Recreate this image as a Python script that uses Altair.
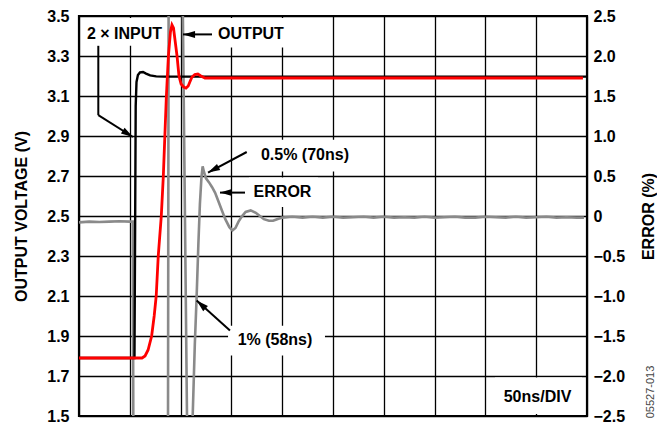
import altair as alt
import pandas as pd

# ---------------- data (time in ns, voltage in V, error in %) ----------------
input_t = [0, 54.6, 55.2, 55.8, 56.6, 58, 60, 63, 66, 70, 76, 84, 500]
input_v = [1.79, 1.79, 2.4, 3.05, 3.17, 3.205, 3.218, 3.22, 3.212, 3.203, 3.198, 3.197, 3.197]

output_t = [0, 62, 65, 68, 71.5, 74, 76, 78, 81, 83, 84.5, 86, 88, 90, 91.5, 93, 95,
            96.5, 98.4, 100.5, 103, 105.3, 107.5, 109.5, 111.2, 114, 117, 120, 124, 496]
output_v = [1.79, 1.79, 1.80, 1.83, 1.90, 2.0, 2.1, 2.3, 2.5, 2.7, 2.9, 3.1, 3.3, 3.42, 3.455, 3.44, 3.36,
            3.3, 3.2, 3.16, 3.145, 3.14, 3.15, 3.175, 3.195, 3.207, 3.21, 3.2, 3.19, 3.19]

error_t = [0, 10, 20, 30, 40, 50, 53.0, 53.6, 87.5, 88.3, 101.6, 107.1, 108.5, 110, 111.9, 114, 115.8,
           117.5, 119, 120.5, 121.7, 123, 125, 128, 131, 134, 137, 140, 144, 148, 151, 154, 157, 160,
           164, 169, 174, 178, 182, 187, 191, 195, 200, 210, 220, 230, 240, 250, 260, 270, 280, 290,
           300, 310, 320, 330, 340, 350, 360, 370, 380, 390, 400, 410, 420, 430, 440, 450, 460, 470,
           480, 490, 497]
error_v = [-0.08, -0.07, -0.075, -0.07, -0.065, -0.07, -0.07, -3.5, -3.5, 3.5, 3.3, -3.5, -3.8, -3.3, -2.5, -1.6, -1.0,
           -0.35, 0.15, 0.48, 0.62, 0.55, 0.47, 0.42, 0.36, 0.29, 0.19, 0.09, -0.04, -0.14, -0.18, -0.15, -0.07, -0.01,
           0.05, 0.07, 0.04, 0.0, -0.04, -0.06, -0.06, -0.04, -0.02, -0.01, -0.02, -0.01, -0.02, -0.01, -0.02, -0.015, -0.01, -0.02,
           -0.01, -0.02, -0.015, -0.02, -0.01, -0.02, -0.015, -0.01, -0.02, -0.02, -0.01, -0.015, -0.02, -0.01, -0.02, -0.015, -0.01, -0.02,
           -0.015, -0.02, -0.02]

x_ticks = [0, 50, 100, 150, 200, 250, 300, 350, 400, 450, 500]
v_ticks = [1.5, 1.7, 1.9, 2.1, 2.3, 2.5, 2.7, 2.9, 3.1, 3.3, 3.5]
e_ticks = [-2.5, -2.0, -1.5, -1.0, -0.5, 0, 0.5, 1.0, 1.5, 2.0, 2.5]

# annotations (data coordinates)
label_text = ["2 × INPUT", "OUTPUT", "0.5% (70ns)", "ERROR", "1% (58ns)", "50ns/DIV"]
label_t = [44.8, 169.3, 222.4, 200.3, 192.9, 451.3]
label_v = [3.408, 3.408, 2.807, 2.619, 1.878, 1.594]

box_t1 = [3.9, 132.9, 167.3, 167.3, 146.7, 409.4]
box_t2 = [85.6, 207.7, 277.6, 235.2, 242.1, 495.1]
box_v1 = [3.490, 3.490, 2.881, 2.693, 1.951, 1.693]
box_v2 = [3.351, 3.342, 2.723, 2.545, 1.802, 1.510]

seg_t1 = [19.0, 19.0, 130.9, 165.1, 163.4, 148.6]
seg_t2 = [19.0, 53.1, 102.4, 127.0, 138.8, 115.8]
seg_v1 = [3.351, 3.004, 3.408, 2.820, 2.617, 1.928]
seg_v2 = [3.004, 2.895, 3.408, 2.717, 2.617, 2.077]

tip_t = [53.1, 102.4, 127.0, 138.8, 115.8]
tip_v = [2.895, 3.408, 2.717, 2.617, 2.077]
tip_angle = [122, 270, 242, 270, 312]

# ---------------- tables ----------------
df_in = pd.DataFrame({"t": input_t, "v": input_v})
df_out = pd.DataFrame({"t": output_t, "v": output_v})
df_err = pd.DataFrame({"t": error_t, "e": error_v})
df_lab = pd.DataFrame({"t": label_t, "v": label_v, "text": label_text})
df_box = pd.DataFrame({"t1": box_t1, "t2": box_t2, "v1": box_v1, "v2": box_v2})
df_seg = pd.DataFrame({"t1": seg_t1, "t2": seg_t2, "v1": seg_v1, "v2": seg_v2})
df_tip = pd.DataFrame({"t": tip_t, "v": tip_v, "a": tip_angle})

FONT = "Liberation Sans"

x_scale = alt.Scale(domain=[0, 500], nice=False, zero=False)
x_axis = alt.Axis(values=x_ticks, grid=True, labels=False, ticks=False, tickSize=0,
                  domain=False, title=None, gridColor="black", gridWidth=1.3, gridOpacity=1)
v_scale = alt.Scale(domain=[1.5, 3.5], nice=False, zero=False)
e_scale = alt.Scale(domain=[-2.5, 2.5], nice=False, zero=False)

v_axis = alt.Axis(values=v_ticks, format=".1f", grid=True, gridColor="black", gridWidth=1.3,
                  gridOpacity=1, ticks=False, tickSize=0, domain=False,
                  title="OUTPUT VOLTAGE (V)", titleFont=FONT, titleFontSize=16,
                  titleFontWeight="bold", titleColor="black", titlePadding=17,
                  labelFont=FONT, labelFontSize=16, labelFontWeight="bold",
                  labelColor="black", labelPadding=10)
e_axis = alt.Axis(values=e_ticks, orient="right", grid=False, ticks=False, tickSize=0,
                  domain=False,
                  labelExpr="datum.value == 0 ? '0' : replace(format(datum.value, '.1f'), '-', '–')",
                  title="ERROR (%)", titleAngle=270, titleBaseline="top",
                  titleFont=FONT, titleFontSize=16, titleFontWeight="bold",
                  titleColor="black", titlePadding=16,
                  labelFont=FONT, labelFontSize=16, labelFontWeight="bold",
                  labelColor="black", labelPadding=6)

X = alt.X("t:Q", scale=x_scale, axis=x_axis)

boxes = alt.Chart(df_box).mark_rect(fill="white", stroke=None).encode(
    x=alt.X("t1:Q", scale=x_scale, axis=x_axis), x2="t2:Q",
    y=alt.Y("v1:Q", scale=v_scale, axis=None), y2="v2:Q")

err_line = alt.Chart(df_err).mark_line(color="#8a8a8a", strokeWidth=2.6, clip=True).encode(
    x=X, y=alt.Y("e:Q", scale=e_scale, axis=e_axis), order="t:Q")

in_line = alt.Chart(df_in).mark_line(color="black", strokeWidth=2.4).encode(
    x=X, y=alt.Y("v:Q", scale=v_scale, axis=v_axis), order="t:Q")

out_line = alt.Chart(df_out).mark_line(color="#ff0000", strokeWidth=2.8).encode(
    x=X, y=alt.Y("v:Q", scale=v_scale, axis=None), order="t:Q")

segs = alt.Chart(df_seg).mark_rule(color="black", strokeWidth=2).encode(
    x=alt.X("t1:Q", scale=x_scale, axis=x_axis), x2="t2:Q",
    y=alt.Y("v1:Q", scale=v_scale, axis=None), y2="v2:Q")

heads = alt.Chart(df_tip).mark_point(
    shape="M0,0L0.7,2.4L-0.7,2.4Z", filled=True, color="black", opacity=1, size=100).encode(
    x=X, y=alt.Y("v:Q", scale=v_scale, axis=None), angle=alt.Angle("a:Q", scale=None))

labels = alt.Chart(df_lab).mark_text(
    font=FONT, fontSize=16, fontWeight="bold", color="black", align="center",
    baseline="middle").encode(
    x=X, y=alt.Y("v:Q", scale=v_scale, axis=None), text="text:N")

code_txt = alt.Chart(pd.DataFrame({"s": ["05527-013"]})).mark_text(
    font=FONT, fontSize=11, color="#444444", angle=270, align="center",
    baseline="middle").encode(x=alt.value(572), y=alt.value(376), text="s:N")

chart = alt.layer(boxes, err_line, in_line, out_line, segs, heads, labels, code_txt).resolve_scale(
    y="independent"
).properties(
    width=508, height=400,
    autosize=alt.AutoSizeParams(type="none"),
    padding={"left": 71, "top": 8, "right": 70, "bottom": 8},
).configure_view(stroke="black", strokeWidth=2.2)

chart.save("out.html", embed_options={"renderer": "svg", "actions": False})
